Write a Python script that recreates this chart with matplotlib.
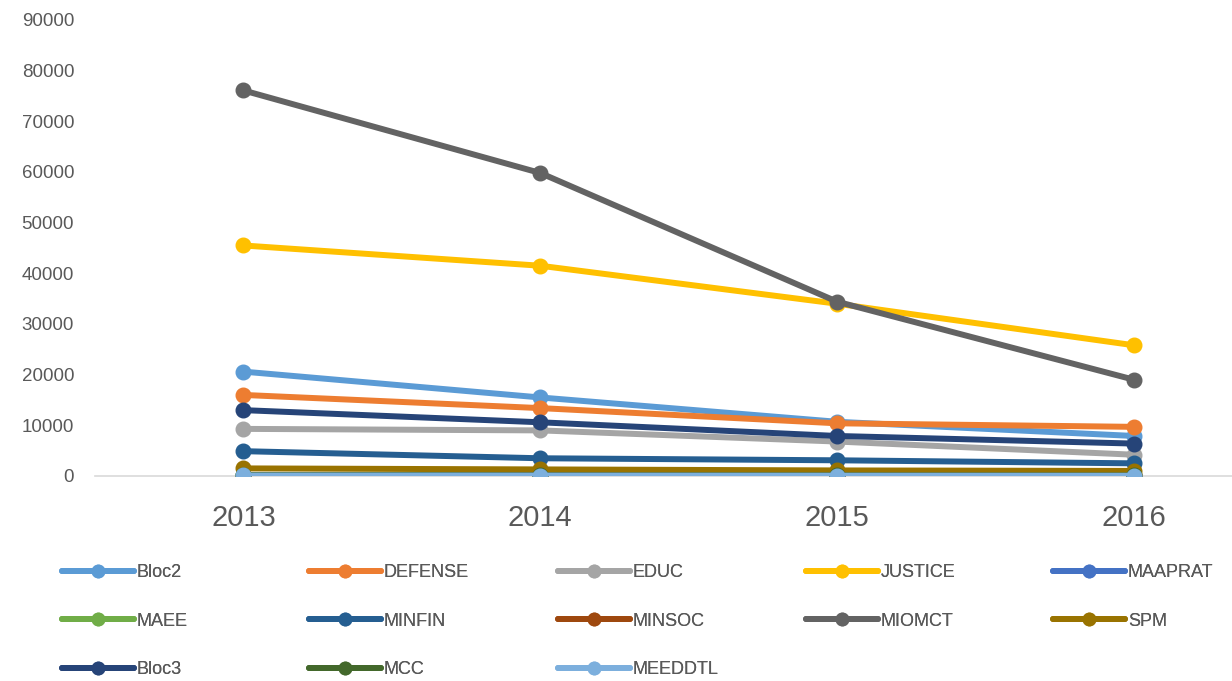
import matplotlib.pyplot as plt

years = ["2013", "2014", "2015", "2016"]

names = ["Bloc2", "DEFENSE", "EDUC", "JUSTICE", "MAAPRAT", "MAEE", "MINFIN",
         "MINSOC", "MIOMCT", "SPM", "Bloc3", "MCC", "MEEDDTL"]

bloc2 = [20600, 15500, 10700, 7900]
defense = [16000, 13400, 10400, 9700]
educ = [9300, 9000, 6800, 4200]
justice = [45500, 41500, 34000, 25800]
maaprat = [150, 120, 100, 90]
maee = [100, 90, 80, 70]
minfin = [4900, 3500, 3100, 2500]
minsoc = [-300, 200, 150, 100]
miomct = [76100, 59800, 34400, 19000]
spm = [1500, 1300, 1100, 1000]
bloc3 = [13000, 10600, 7900, 6400]
mcc = [200, 150, 120, 100]
meeddtl = [100, 80, 60, 50]

series = [bloc2, defense, educ, justice, maaprat, maee, minfin,
          minsoc, miomct, spm, bloc3, mcc, meeddtl]

colors = ["#5B9BD5", "#ED7D31", "#A5A5A5", "#FFC000", "#4472C4", "#70AD47",
          "#255E91", "#9E480E", "#636363", "#997300", "#264478", "#43682B",
          "#7CAFDD"]

plt.rcParams["font.family"] = ["Liberation Sans", "DejaVu Sans"]

fig = plt.figure(figsize=(12.32, 6.81), dpi=100)
ax = fig.add_axes([95 / 1232, 1 - 476 / 681, 1 - 95 / 1232, (476 - 20) / 681])

x = list(range(len(years)))
handles = []
for name, vals, c in zip(names, series, colors):
    h, = ax.plot(x, vals, color=c, lw=4.3, marker="o", markersize=10.5,
                 label=name, solid_capstyle="round")
    handles.append(h)

ax.set_xlim(-0.5, 3.33)
ax.set_ylim(0, 90000)
ax.set_yticks(range(0, 90001, 10000))
ax.set_xticks(x)
ax.set_xticklabels(years)
ax.tick_params(axis="y", length=0, labelsize=13.5, colors="#595959", pad=15)
ax.tick_params(axis="x", length=0, labelsize=21, colors="#595959", pad=20)
for s in ["top", "right", "left"]:
    ax.spines[s].set_visible(False)
ax.spines["bottom"].set_color("#D9D9D9")
ax.spines["bottom"].set_linewidth(1.2)
ax.spines["bottom"].set_zorder(0)

# legend: one small legend per column, entries read row by row
col_x = [61, 308, 557, 805, 1052]
for col in range(5):
    idx = list(range(col, len(names), 5))
    leg = fig.legend([handles[i] for i in idx], [names[i] for i in idx],
                     loc="upper left", bbox_to_anchor=((col_x[col] + 1) / 1232, 1 - 564 / 681),
                     frameon=False, fontsize=13, handlelength=4.0, handletextpad=0.15,
                     labelspacing=1.75, labelcolor="#595959", borderpad=0,
                     borderaxespad=0, markerscale=0.85)
    fig.add_artist(leg)

fig.savefig("out.png", dpi=100)
